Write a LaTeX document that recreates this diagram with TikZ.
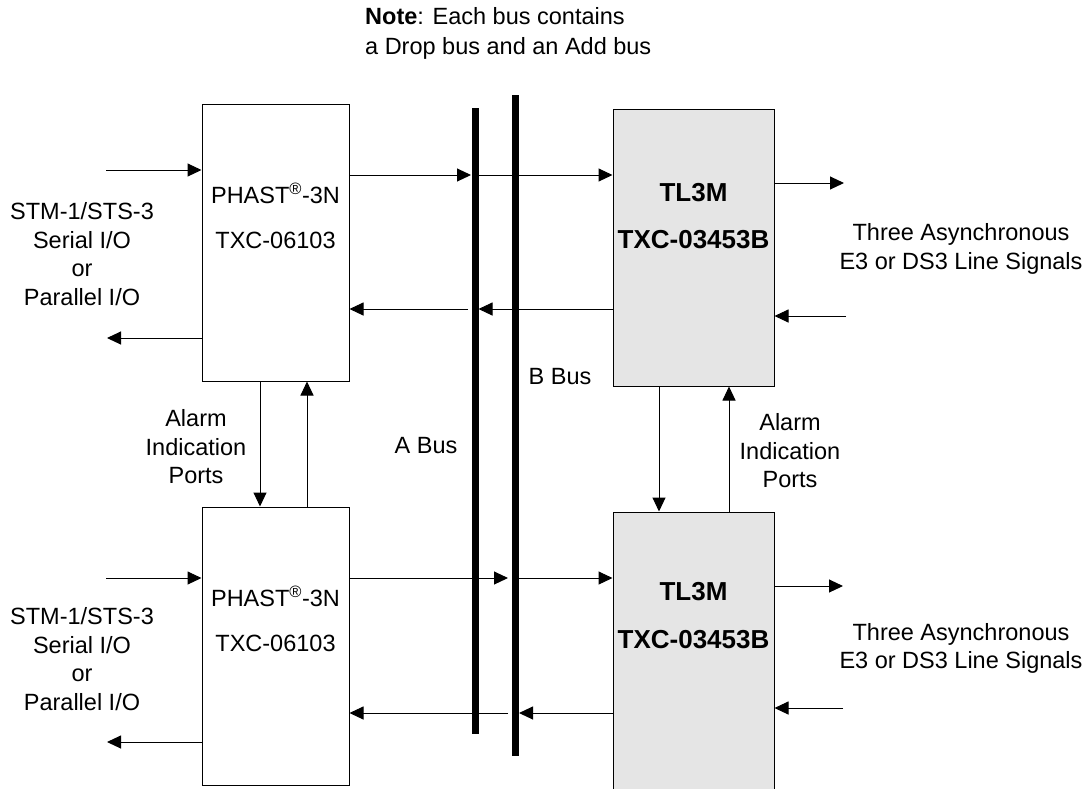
\documentclass[tikz,border=0pt]{standalone}
\usepackage{fontspec}
\setmainfont{Liberation Sans}
\usetikzlibrary{arrows.meta}
\begin{document}
\begin{tikzpicture}[x=1pt,y=-1pt,
  every node/.style={font=\fontsize{23.5}{28.5}\selectfont},
  lbl/.style={align=center, inner sep=0pt},
  boldlbl/.style={lbl, font=\bfseries\fontsize{26}{30}\selectfont},
  chip/.style={draw=black, line width=1pt, inner sep=0pt, minimum width=147pt},
  tchip/.style={chip, fill=black!10, minimum width=161pt},
  bus/.style={line width=7pt},
  arr/.style={line width=1pt, -{Triangle[length=14pt,width=13pt]}},
  ]
\useasboundingbox (0,0) rectangle (1091,788);
\clip (0,0) rectangle (1091,788);

% chips
\node[chip, minimum height=277pt] (p1) at (275.5,242.5) {};
\node[chip, minimum height=278pt] (p2) at (275.5,646) {};
\node[tchip, minimum height=277pt] (t1) at (693.5,247.5) {};
\node[tchip, minimum height=284pt] (t2) at (693.5,654) {};

% buses
\coordinate (aT) at (475.5,108); \coordinate (aB) at (475.5,734);
\coordinate (bT) at (515,95);    \coordinate (bB) at (515,756);
\draw[bus] (aT) -- (aB);
\draw[bus] (bT) -- (bB);

% bus contact points
\coordinate (a1) at (471,175);  \coordinate (a1r) at (479,175);
\coordinate (a2r) at (478.5,309); \coordinate (a2l) at (468,309);
\coordinate (b3l) at (508,578); \coordinate (b3r) at (519,578);
\coordinate (b4r) at (519,713); \coordinate (b4l) at (508,713);

\draw[arr] (p1.east |- a1) -- (a1);
\draw[arr] (a1r) -- (t1.west |- a1r);
\draw[arr] (t1.west |- a2r) -- (a2r);
\draw[arr] (a2l) -- (p1.east |- a2l);
\draw[arr] (p2.east |- b3l) -- (b3l);
\draw[arr] (b3r) -- (t2.west |- b3r);
\draw[arr] (t2.west |- b4r) -- (b4r);
\draw[arr] (b4l) -- (p2.east |- b4l);

% external ports
\coordinate (inL1) at (106,170); \coordinate (outL1) at (107,338);
\coordinate (inL2) at (106,578); \coordinate (outL2) at (107,742);
\coordinate (outR1) at (844,183); \coordinate (inR1) at (846,316);
\coordinate (outR2) at (843,586); \coordinate (inR2) at (843,708);
\draw[arr] (inL1) -- (p1.west |- inL1);
\draw[arr] (p1.west |- outL1) -- (outL1);
\draw[arr] (inL2) -- (p2.west |- inL2);
\draw[arr] (p2.west |- outL2) -- (outL2);
\draw[arr] (t1.east |- outR1) -- (outR1);
\draw[arr] (inR1) -- (t1.east |- inR1);
\draw[arr] (t2.east |- outR2) -- (outR2);
\draw[arr] (inR2) -- (t2.east |- inR2);

% alarm ports
\coordinate (xl1) at (260,0); \coordinate (xl2) at (307,0);
\coordinate (xr1) at (659,0); \coordinate (xr2) at (729,0);
\draw[arr] (p1.south -| xl1) -- (p2.north -| xl1);
\draw[arr] (p2.north -| xl2) -- (p1.south -| xl2);
\draw[arr] (t1.south -| xr1) -- (t2.north -| xr1);
\draw[arr] (t2.north -| xr2) -- (t1.south -| xr2);

% labels
\node[lbl] (ph1) at (275.5,193) {PHAST\textsuperscript{®}-3N};
\node[lbl] (ph1b) at (275.5,240) {TXC-06103};
\node[lbl] (ph2) at (275.5,596) {PHAST\textsuperscript{®}-3N};
\node[lbl] (ph2b) at (275.5,643) {TXC-06103};
\node[boldlbl] (tl1) at (693.5,193) {TL3M};
\node[boldlbl] (tl1b) at (693.5,240) {TXC-03453B};
\node[boldlbl] (tl2) at (693.5,592) {TL3M};
\node[boldlbl] (tl2b) at (693.5,640) {TXC-03453B};

\node[lbl] (stm1) at (82,254) {STM-1/STS-3\\Serial I/O\\or\\Parallel I/O};
\node[lbl] (stm2) at (82,659) {STM-1/STS-3\\Serial I/O\\or\\Parallel I/O};
\node[lbl] (asy1) at (961,249) {Three Asynchronous\\E3 or DS3 Line Signals};
\node[lbl] (asy2) at (961,648.5) {Three Asynchronous\\E3 or DS3 Line Signals};
\node[lbl] (alm1) at (196,447) {Alarm\\Indication\\Ports};
\node[lbl] (alm2) at (790,451) {Alarm\\Indication\\Ports};
\node[lbl] (abus) at (426,446) {A Bus};
\node[lbl] (bbus) at (560,377) {B Bus};
\node[lbl, align=left, anchor=west, font=\fontsize{23.5}{30}\selectfont] (note) at (365,33)
  {\textbf{Note}: Each bus contains\\a Drop bus and an Add bus};
\end{tikzpicture}
\end{document}
